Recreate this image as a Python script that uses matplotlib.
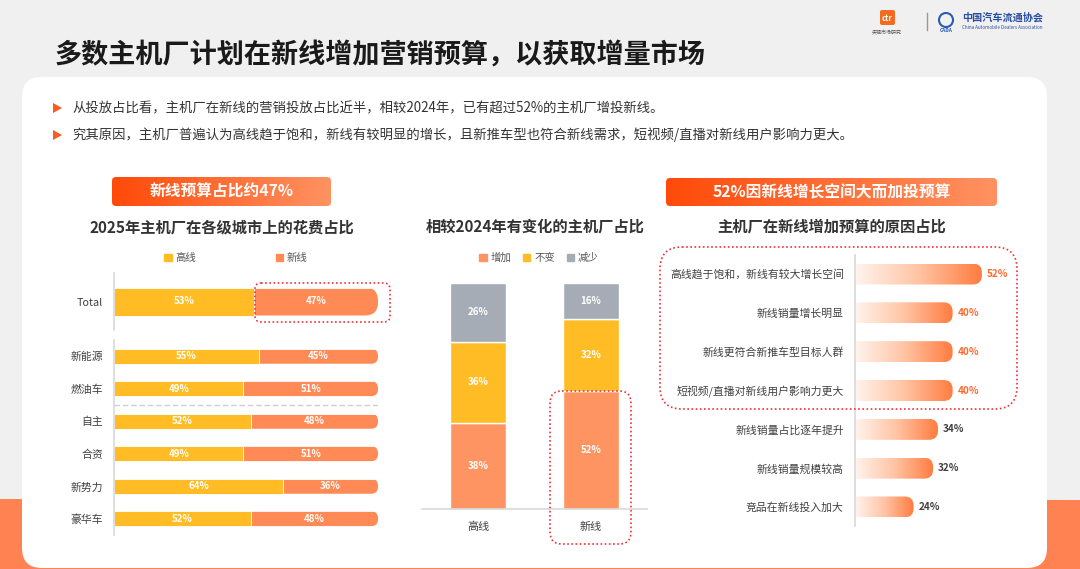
import numpy as np
import matplotlib.pyplot as plt
from matplotlib.patches import FancyBboxPatch, Polygon, Patch, Circle
from matplotlib.colors import LinearSegmentedColormap

plt.rcParams['font.family'] = ['Noto Sans CJK SC', 'DejaVu Sans']

# ---- data ----
total_gao = 53
total_xin = 47
seg_cats = ['新能源', '燃油车', '自主', '合资', '新势力', '豪华车']
seg_gao = [55, 49, 52, 49, 64, 52]
seg_xin = [45, 51, 48, 51, 36, 48]

chg_cats = ['高线', '新线']
chg_up = [38, 52]
chg_same = [36, 32]
chg_down = [26, 16]

reasons = ['高线趋于饱和，新线有较大增长空间', '新线销量增长明显', '新线更符合新推车型目标人群',
           '短视频/直播对新线用户影响力更大', '新线销量占比逐年提升', '新线销量规模较高', '竞品在新线投入加大']
reason_vals = [52, 40, 40, 40, 34, 32, 24]

YEL = '#FFBC24'
ORG = '#FF8A55'
ORG2 = '#FF9463'
GRY = '#A6ACB6'
TXT = '#404040'

W, H = 1080, 569
fig = plt.figure(figsize=(W / 100, H / 100), dpi=100)
fig.patch.set_facecolor('#F0F0F0')


def box(x0, y0, x1, y1, **kw):
    return fig.add_axes([x0 / W, 1 - y1 / H, (x1 - x0) / W, (y1 - y0) / H], **kw)


def rounded(ax, x0, x1, y0, y1, r_px, **kw):
    # rounded box in data coords with corner radius given in pixels
    pos = ax.get_position()
    xl, yl = ax.get_xlim(), ax.get_ylim()
    xpx = pos.width * W / abs(xl[1] - xl[0])
    ypx = pos.height * H / abs(yl[1] - yl[0])
    p = FancyBboxPatch((x0, min(y0, y1)), x1 - x0, abs(y1 - y0),
                       boxstyle=f'round,pad=0,rounding_size={r_px / xpx}',
                       mutation_aspect=xpx / ypx, transform=ax.transData, **kw)
    return p


# ---- background / decorations (pixel axes) ----
bg = fig.add_axes([0, 0, 1, 1], zorder=-10)
bg.set_xlim(0, W)
bg.set_ylim(H, 0)
bg.axis('off')
bg.add_patch(Polygon([(0, 499), (W, 500), (W, H), (0, H)], closed=True, color='#FF8352', lw=0))
bg.add_patch(FancyBboxPatch((22, 77), 1025, 491, boxstyle='round,pad=0,rounding_size=20',
                            fc='white', ec='none'))

bg.text(55, 55, '多数主机厂计划在新线增加营销预算，以获取增量市场', fontsize=19.5,
        fontweight='bold', color='#1A1A1A', va='center', ha='left')

bullets = ['从投放占比看，主机厂在新线的营销投放占比近半，相较2024年，已有超过52%的主机厂增投新线。',
           '究其原因，主机厂普遍认为高线趋于饱和，新线有较明显的增长，且新推车型也符合新线需求，短视频/直播对新线用户影响力更大。']
for yy, t in zip([108, 135], bullets):
    bg.add_patch(Polygon([(53, yy - 5), (62, yy), (53, yy + 5)], closed=True, color='#FF5A1F', lw=0))
    bg.text(72, yy, t, fontsize=9.6, color='#333333', va='center', ha='left')

# logos
bg.add_patch(FancyBboxPatch((880, 10), 15, 15, boxstyle='round,pad=0,rounding_size=2',
                            fc='#F26B21', ec='none'))
bg.text(887.5, 18, 'ctr', fontsize=5.5, color='white', fontweight='bold', ha='center', va='center')
bg.text(887, 33, '央视市场研究', fontsize=3.6, color='#555555', ha='center', va='center')
bg.plot([927, 927], [13, 30], color='#999999', lw=1)
bg.add_patch(Circle((946, 20), 7, fill=False, ec='#2B5BB5', lw=1.5))
bg.text(946, 30, 'CADA', fontsize=3.5, color='#2B5BB5', ha='center', va='center', fontweight='bold')
bg.text(962, 17, '中国汽车流通协会', fontsize=7.3, color='#2B4FA0', ha='left', va='center', fontweight='bold')
bg.text(962, 27, 'China Automobile Dealers Association', fontsize=3.3, color='#2B4FA0',
        ha='left', va='center')

# banners
ban_cmap = LinearSegmentedColormap.from_list('ban', ['#FF4A0A', '#FF9262'])
for (x0, y0, x1, y1, t) in [(112, 177, 331, 206, '新线预算占比约47%'),
                             (666, 178, 997, 206, '52%因新线增长空间大而加投预算')]:
    bax = box(x0, y0, x1, y1)
    bax.set_xlim(0, 1)
    bax.set_ylim(0, 1)
    bax.axis('off')
    im = bax.imshow(np.linspace(0, 1, 256)[None, :], cmap=ban_cmap, extent=(0, 1, 0, 1), aspect='auto')
    im.set_clip_path(rounded(bax, 0, 1, 0, 1, 4))
    bax.set_xlim(0, 1)
    bax.set_ylim(0, 1)
    bax.text(0.5, 0.5, t, color='white', fontsize=11.3, fontweight='bold', ha='center', va='center')

# chart titles
for xc, t in [(222, '2025年主机厂在各级城市上的花费占比'), (535, '相较2024年有变化的主机厂占比'),
              (832, '主机厂在新线增加预算的原因占比')]:
    bg.text(xc, 227, t, fontsize=11, fontweight='bold', color='#333333', ha='center', va='center')

# ---- left chart ----
def style_left(ax):
    for s in ['top', 'right', 'bottom']:
        ax.spines[s].set_visible(False)
    ax.spines['left'].set_color('#D9D9D9')
    ax.spines['left'].set_linewidth(1.2)
    ax.set_xticks([])
    ax.tick_params(axis='y', length=0, pad=8, labelsize=7.8, labelcolor=TXT)
    ax.set_facecolor('none')

axt = box(114, 273, 378, 330)
axt.set_xlim(0, 100)
axt.set_ylim(-0.5, 0.5)
th = 28 / 57
axt.barh(0, total_gao, height=th, color=YEL, edgecolor='white', linewidth=0.6)
bt = axt.barh(0, total_xin, left=total_gao, height=th, color=ORG, edgecolor='white', linewidth=0.6)
for b in bt:
    b.set_clip_path(rounded(axt, 0, 100, -th / 2, th / 2, 13))
axt.text(total_gao / 2, 0, f'{total_gao}%', color='white', fontsize=7, fontweight='bold', ha='center', va='center')
axt.text(total_gao + total_xin / 2, 0, f'{total_xin}%', color='white', fontsize=7, fontweight='bold',
         ha='center', va='center')
axt.set_yticks([0])
axt.set_yticklabels(['Total'])
style_left(axt)

axb = box(114, 340, 378, 535)
axb.set_xlim(0, 100)
axb.set_ylim(len(seg_cats) - 0.5, -0.5)
bh = 15 / 32.5
yy = np.arange(len(seg_cats))
axb.barh(yy, seg_gao, height=bh, color=YEL, edgecolor='white', linewidth=0.6)
bars = axb.barh(yy, seg_xin, left=seg_gao, height=bh, color=ORG, edgecolor='white', linewidth=0.6)
for i, b in enumerate(bars):
    b.set_clip_path(rounded(axb, 0, 100, i - bh / 2, i + bh / 2, 7))
    axb.text(seg_gao[i] / 2, i, f'{seg_gao[i]}%', color='white', fontsize=7, fontweight='bold',
             ha='center', va='center')
    axb.text(seg_gao[i] + seg_xin[i] / 2, i, f'{seg_xin[i]}%', color='white', fontsize=7,
             fontweight='bold', ha='center', va='center')
axb.axhline(1.5, color='#CFCFCF', lw=1, ls=(0, (4, 2)))
axb.set_yticks(yy)
axb.set_yticklabels(seg_cats)
style_left(axb)

fig.legend(handles=[Patch(color=YEL), Patch(color=ORG)], labels=['高线', '新线'], loc='center',
           bbox_to_anchor=(236 / W, 1 - 258 / H), ncol=2, frameon=False, fontsize=7.5,
           handlelength=0.7, handleheight=0.7, handletextpad=0.4, columnspacing=7.6,
           labelcolor='#555555')

# ---- middle chart ----
axm = box(422, 283, 647, 509)
axm.set_xlim(-0.5, 1.5)
axm.set_ylim(0, 100)
xm = np.arange(len(chg_cats))
bw = 0.5
axm.bar(xm, chg_up, width=bw, color=ORG2, edgecolor='white', linewidth=1)
axm.bar(xm, chg_same, width=bw, bottom=chg_up, color=YEL, edgecolor='white', linewidth=1)
axm.bar(xm, chg_down, width=bw, bottom=np.add(chg_up, chg_same), color=GRY, edgecolor='white', linewidth=1)
for i in xm:
    base = 0
    for v in [chg_up[i], chg_same[i], chg_down[i]]:
        axm.text(i, base + v / 2, f'{v}%', color='white', fontsize=7, fontweight='bold',
                 ha='center', va='center')
        base += v
for s in ['top', 'right', 'left']:
    axm.spines[s].set_visible(False)
axm.spines['bottom'].set_color('#D9D9D9')
axm.spines['bottom'].set_linewidth(1.2)
axm.set_yticks([])
axm.set_xticks(xm)
axm.set_xticklabels(chg_cats)
axm.tick_params(axis='x', length=0, pad=9, labelsize=8, labelcolor=TXT)
axm.set_facecolor('none')

fig.legend(handles=[Patch(color=ORG2), Patch(color=YEL), Patch(color=GRY)],
           labels=['增加', '不变', '减少'], loc='center', bbox_to_anchor=(539 / W, 1 - 258 / H),
           ncol=3, frameon=False, fontsize=7.5, handlelength=0.7, handleheight=0.7,
           handletextpad=0.4, columnspacing=1.1, labelcolor='#555555')

# ---- right chart ----
axr = box(855, 254.6, 1001.4, 526.4)
axr.set_xlim(0, 60)
axr.set_ylim(len(reasons) - 0.5, -0.5)
grad_cmap = LinearSegmentedColormap.from_list('gr', ['#FFF4EE', '#FFC4A4', '#FF7C40'])
rh = 21 / 38.83
for i, v in enumerate(reason_vals):
    im = axr.imshow(np.linspace(0, 1, 256)[None, :], cmap=grad_cmap,
                    extent=(0, v, i + rh / 2, i - rh / 2), aspect='auto')
    axr.set_xlim(0, 60)
    axr.set_ylim(len(reasons) - 0.5, -0.5)
    im.set_clip_path(rounded(axr, -5, v, i - rh / 2, i + rh / 2, 9))
    axr.text(v + 2, i, f'{v}%', fontsize=7.2, fontweight='bold', va='center', ha='left',
             color='#FF6A30' if i < 4 else TXT)
axr.set_xlim(0, 60)
axr.set_ylim(len(reasons) - 0.5, -0.5)
axr.set_yticks(range(len(reasons)))
axr.set_yticklabels(reasons)
for s in ['top', 'right', 'bottom']:
    axr.spines[s].set_visible(False)
axr.spines['left'].set_color('#D9D9D9')
axr.spines['left'].set_linewidth(1.2)
axr.set_xticks([])
axr.tick_params(axis='y', length=0, pad=8, labelsize=7.8, labelcolor=TXT)
axr.set_facecolor('none')

# ---- dotted highlight boxes ----
ov = fig.add_axes([0, 0, 1, 1], zorder=20)
ov.set_xlim(0, W)
ov.set_ylim(H, 0)
ov.axis('off')
ov.patch.set_alpha(0)
for (x0, y0, x1, y1, r) in [(255, 283, 390, 322, 6), (550, 391, 631, 544, 12), (660, 247, 1017, 409, 22)]:
    ov.add_patch(FancyBboxPatch((x0, y0), x1 - x0, y1 - y0, boxstyle=f'round,pad=0,rounding_size={r}',
                                fc='none', ec='#F0303A', lw=1.2, ls=(0, (1, 1.5))))

fig.savefig('out.png', dpi=100)
